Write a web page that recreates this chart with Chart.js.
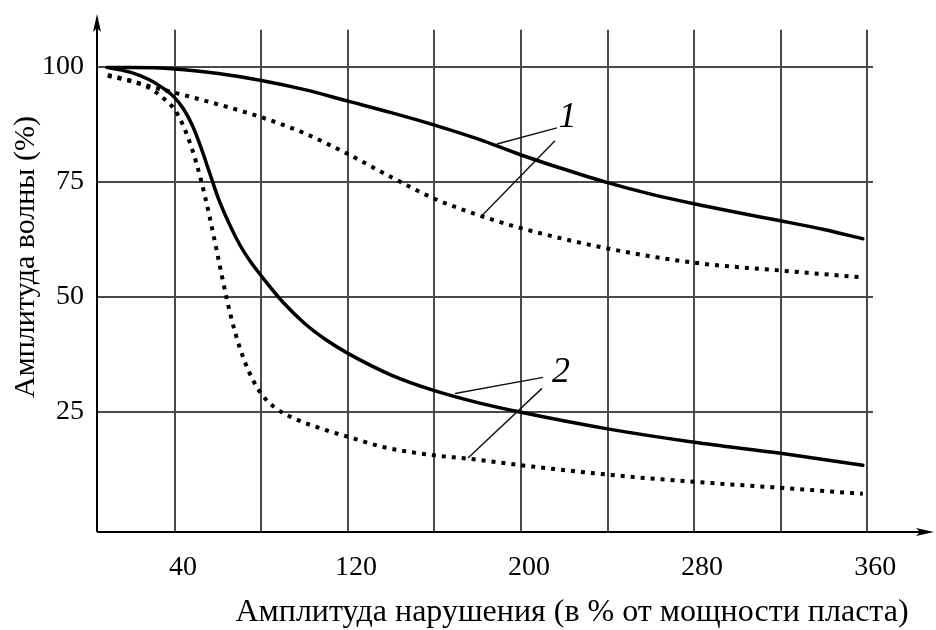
<!DOCTYPE html>
<html>
<head>
<meta charset="utf-8">
<script src="https://cdn.jsdelivr.net/npm/chart.js@4.4.1/dist/chart.umd.min.js"></script>
<style>
html,body{margin:0;padding:0;background:#fff;}
#wrap{width:936px;height:630px;}
</style>
</head>
<body>
<div id="wrap"><canvas id="c" width="936" height="630"></canvas></div>
<script>
// ---- data ----
const xGridTicks = [40, 80, 120, 160, 200, 240, 280, 320, 360];
const xLabelTicks = [40, 120, 200, 280, 360];
const yTicks = [25, 50, 75, 100];

const curve1SolidX = [8.6, 20, 40, 60, 80, 100, 120, 140, 160, 180, 200, 220, 240, 260, 280, 300, 320, 340, 358];
const curve1SolidY = [99.8, 99.8, 99.5, 98.5, 97.0, 95.0, 92.5, 90.0, 87.3, 84.3, 80.8, 77.7, 74.8, 72.3, 70.2, 68.3, 66.5, 64.6, 62.6];

const curve1DotX = [9, 20, 30, 41, 60, 80, 100, 120, 140, 160, 180, 200, 240, 280, 320, 358];
const curve1DotY = [98.2, 96.9, 95.5, 94.2, 91.8, 89.0, 85.5, 81.0, 76.0, 71.3, 67.8, 64.9, 60.5, 57.4, 55.7, 54.2];

const curve2SolidX = [10, 20, 28, 34, 39, 44, 48, 52, 56, 60, 65, 70, 75, 80, 90, 100, 110, 120, 140, 160, 180, 200, 240, 280, 320, 358];
const curve2SolidY = [99.7, 98.7, 97.2, 95.5, 93.7, 90.8, 87.3, 82.5, 77.0, 71.5, 66.0, 61.3, 57.6, 54.5, 48.8, 44.2, 40.6, 37.7, 33.0, 29.6, 27.0, 24.9, 21.3, 18.4, 16.0, 13.4];

const curve2DotX = [9, 19, 28, 34, 40, 44, 48, 52, 56, 60, 64, 68, 72, 76, 80, 86, 95, 110, 120, 136, 159, 176, 200, 246, 280, 320, 358];
const curve2DotY = [98.0, 96.9, 95.4, 93.4, 90.6, 87.0, 82.0, 75.5, 67.5, 58.5, 49.5, 42.0, 36.3, 32.0, 28.9, 26.0, 23.6, 21.0, 19.6, 17.4, 15.6, 14.8, 13.4, 11.1, 9.8, 8.5, 7.2];

// leader lines for the curve labels (data units)
const leader1aX = [188.9, 216.6], leader1aY = [83.2, 86.7];
const leader1bX = [181.9, 215.7], leader1bY = [67.6, 83.9];
const leader2aX = [169.5, 210.2], leader2aY = [29.0, 32.5];
const leader2bX = [175.5, 209.7], leader2bY = [15.0, 30.1];
const curveLabels = ['1', '2'];
const curveLabelX = [221.5, 218.5];
const curveLabelY = [89.0, 33.5];

const xTitle = 'Амплитуда нарушения (в % от мощности пласта)';
const yTitle = 'Амплитуда волны (%)';

// ---- helpers ----
const pts = (xs, ys) => xs.map((x, i) => ({x: x, y: ys[i]}));
const SERIF = '"Liberation Serif", "Times New Roman", serif';

const solidStyle = {borderColor: '#000', borderWidth: 3.5, pointRadius: 0, fill: false, cubicInterpolationMode: 'monotone', borderCapStyle: 'round'};
const dotStyle = {borderColor: '#000', borderWidth: 4, pointRadius: 0, fill: false, cubicInterpolationMode: 'monotone', borderDash: [4, 6], borderCapStyle: 'butt'};
const leaderStyle = {borderColor: '#111', borderWidth: 1.4, pointRadius: 0, fill: false, tension: 0};

const decor = {
  id: 'decor',
  beforeDraw(chart) {
    const ctx = chart.ctx;
    ctx.save();
    ctx.fillStyle = '#fff';
    ctx.fillRect(0, 0, chart.width, chart.height);
    ctx.restore();
  },
  afterDraw(chart) {
    const ctx = chart.ctx;
    const a = chart.chartArea;
    const xs = chart.scales.x, ys = chart.scales.y;
    ctx.save();
    // axes with arrows
    ctx.strokeStyle = '#000';
    ctx.fillStyle = '#000';
    ctx.lineWidth = 2;
    ctx.beginPath();
    ctx.moveTo(a.left, a.bottom);
    ctx.lineTo(a.left, 18);
    ctx.moveTo(a.left, a.bottom);
    ctx.lineTo(929, a.bottom);
    ctx.stroke();
    ctx.beginPath();
    ctx.moveTo(a.left, 14);
    ctx.lineTo(a.left - 4, 32);
    ctx.lineTo(a.left, 28);
    ctx.lineTo(a.left + 4, 32);
    ctx.closePath();
    ctx.fill();
    ctx.beginPath();
    ctx.moveTo(934, a.bottom);
    ctx.lineTo(916, a.bottom - 4);
    ctx.lineTo(920, a.bottom);
    ctx.lineTo(916, a.bottom + 4);
    ctx.closePath();
    ctx.fill();
    // curve labels
    ctx.font = 'italic 36px ' + SERIF;
    ctx.textAlign = 'center';
    ctx.textBaseline = 'middle';
    ctx.fillStyle = '#000';
    curveLabels.forEach((t, i) => {
      ctx.fillText(t, xs.getPixelForValue(curveLabelX[i]), ys.getPixelForValue(curveLabelY[i]));
    });
    // axis titles
    ctx.font = '32px ' + SERIF;
    ctx.fillText(xTitle, a.left + 475, a.bottom + 81);
    ctx.font = '30px ' + SERIF;
    ctx.translate(26, 257);
    ctx.rotate(-Math.PI / 2);
    ctx.fillText(yTitle, 0, 0);
    ctx.restore();
  }
};

new Chart(document.getElementById('c'), {
  type: 'line',
  data: {
    datasets: [
      Object.assign({label: '1 solid', data: pts(curve1SolidX, curve1SolidY)}, solidStyle),
      Object.assign({label: '1 dotted', data: pts(curve1DotX, curve1DotY)}, dotStyle),
      Object.assign({label: '2 solid', data: pts(curve2SolidX, curve2SolidY)}, solidStyle),
      Object.assign({label: '2 dotted', data: pts(curve2DotX, curve2DotY)}, dotStyle),
      Object.assign({label: 'l1a', data: pts(leader1aX, leader1aY)}, leaderStyle),
      Object.assign({label: 'l1b', data: pts(leader1bX, leader1bY)}, leaderStyle),
      Object.assign({label: 'l2a', data: pts(leader2aX, leader2aY)}, leaderStyle),
      Object.assign({label: 'l2b', data: pts(leader2bX, leader2bY)}, leaderStyle)
    ]
  },
  options: {
    responsive: false,
    animation: false,
    events: [],
    layout: {padding: {top: 29, right: 63, left: 0, bottom: 0}},
    plugins: {legend: {display: false}, tooltip: {enabled: false}, title: {display: false}},
    scales: {
      x: {
        type: 'linear',
        min: 4, max: 362.7,
        afterBuildTicks: s => { s.ticks = xGridTicks.map(v => ({value: v})); },
        afterFit: s => { s.height = 98; },
        border: {display: false},
        grid: {color: '#4a4a4a', lineWidth: 2, drawTicks: false},
        ticks: {
          padding: 19,
          labelOffset: 8,
          maxRotation: 0,
          autoSkip: false,
          color: '#000',
          font: {family: SERIF, size: 28},
          callback: v => xLabelTicks.includes(v) ? String(v) : ''
        }
      },
      y: {
        type: 'linear',
        min: -1.1, max: 108,
        afterBuildTicks: s => { s.ticks = yTicks.map(v => ({value: v})); },
        afterFit: s => { s.width = 97; },
        border: {display: false},
        grid: {color: '#4a4a4a', lineWidth: 2, drawTicks: false},
        ticks: {
          padding: 13,
          color: '#000',
          font: {family: SERIF, size: 28},
          callback: v => String(v)
        }
      }
    }
  },
  plugins: [decor]
});
</script>
</body>
</html>
